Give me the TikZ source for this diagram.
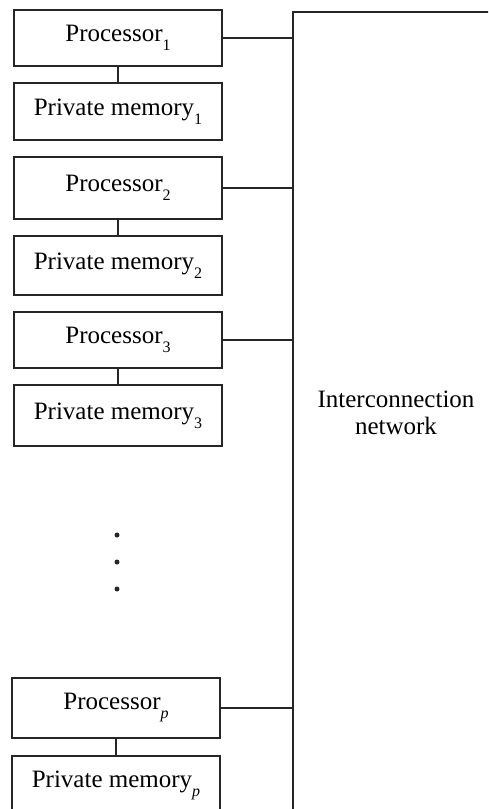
\documentclass[tikz,border=0pt]{standalone}
\usepackage{fontspec}
\setmainfont{Liberation Serif}
\newcommand{\sbs}[1]{\raisebox{-0.36em}{\fontsize{16}{16}\selectfont #1}}
\begin{document}
\begin{tikzpicture}[x=1pt,y=-1pt,
  box/.style={draw=black!85,line width=1.6pt,minimum width=208pt,inner sep=0pt,
    font=\fontsize{25}{28}\selectfont},
  link/.style={draw=black!85,line width=1.5pt},
  dotm/.style={fill=black!85,circle,inner sep=0pt,minimum size=5pt}]
\useasboundingbox (0,0) rectangle (488,809);
\begin{scope}
\clip (0,0) rectangle (488,809);
\node[box,minimum height=56pt] (p1) at (118,38) {Processor\sbs{1}};
\node[box,minimum height=57pt] (m1) at (118,111.5) {Private memory\sbs{1}};
\node[box,minimum height=62pt] (p2) at (118,188) {Processor\sbs{2}};
\node[box,minimum height=59pt] (m2) at (118,265.5) {Private memory\sbs{2}};
\node[box,minimum height=56pt] (p3) at (118,340) {Processor\sbs{3}};
\node[box,minimum height=61pt] (m3) at (118,415.5) {Private memory\sbs{3}};
\node[box,minimum height=60pt] (pp) at (116,708) {Processor\sbs{\textit{p}}};
\node[box,minimum height=60pt,anchor=north] (mp) at (116,755) {\raisebox{6pt}{Private memory\sbs{\textit{p}}}};
\node[dotm] (d1) at (117,535) {};
\node[dotm] (d2) at (117,562) {};
\node[dotm] (d3) at (117,589) {};
\coordinate (nTL) at (293,12);
\coordinate (nTR) at (492,12);
\coordinate (nBL) at (293,815);
\draw[link] (nTR) -- (nTL) -- (nBL);
\draw[link] (p1.south) -- (m1.north);
\draw[link] (p2.south) -- (m2.north);
\draw[link] (p3.south) -- (m3.north);
\draw[link] (pp.south) -- (mp.north);
\draw[link] (p1.east) -- (p1.east -| nTL);
\draw[link] (p2.east) -- (p2.east -| nTL);
\draw[link] (p3.east) -- (p3.east -| nTL);
\draw[link] (pp.east) -- (pp.east -| nTL);
\node[align=center,font=\fontsize{25}{27}\selectfont] (net) at (396,413) {Interconnection\\network};
\end{scope}
\end{tikzpicture}
\end{document}
